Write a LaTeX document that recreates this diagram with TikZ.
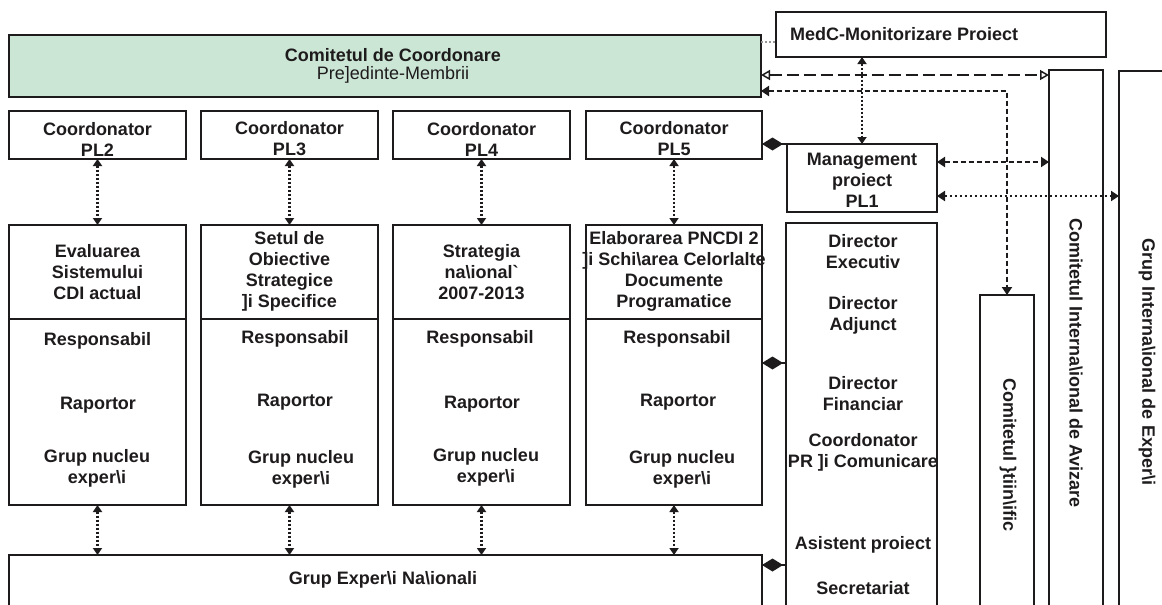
\documentclass[tikz,border=0pt]{standalone}
\usepackage{fontspec}
\setmainfont{Liberation Sans}
\usetikzlibrary{arrows.meta}
\definecolor{ink}{RGB}{30,27,28}
\definecolor{cgreen}{RGB}{204,230,214}
\definecolor{greyline}{RGB}{150,150,150}
\begin{document}
\begin{tikzpicture}[x=1pt,y=-1pt,
  every node/.style={text=ink, font=\fontsize{18}{21}\selectfont\bfseries},
  box/.style={draw=ink, line width=2.5pt, inner sep=0pt, outer sep=0pt},
  lbl/.style={align=center, inner sep=0pt},
  vlbl/.style={align=center, inner sep=0pt, rotate=-90},
  dotarrow/.style={draw=ink, line width=2.2pt, dash pattern=on 2pt off 2pt,
    {Triangle[length=7pt,width=9pt]}-{Triangle[length=7pt,width=9pt]}},
  shortdash/.style={draw=ink, line width=2.4pt, dash pattern=on 5pt off 3pt,
    {Triangle[length=8pt,width=10pt]}-{Triangle[length=8pt,width=10pt]}},
  longdash/.style={draw=ink, line width=2.6pt, dash pattern=on 12pt off 5pt,
    {Triangle[open,length=9pt,width=10pt,line width=1.5pt]}-{Triangle[open,length=9pt,width=10pt,line width=1.5pt]}},
  sparsedot/.style={draw=ink, line width=2.4pt, dash pattern=on 2pt off 3pt,
    {Triangle[length=8pt,width=10pt]}-{Triangle[length=8pt,width=10pt]}},
  diam/.style={draw=ink, line width=2pt, {Diamond[length=21pt,width=13pt]}-}
]
\useasboundingbox (0,0) rectangle (1162,605);

% ---------- top boxes
\node[box, fill=cgreen, minimum width=752, minimum height=62] (cc) at (385,66) {};
\node[lbl, font=\fontsize{18}{18}\selectfont\bfseries] (cct) at (393,66)
  {Comitetul de Coordonare\\\mdseries Pre]edinte-Membrii};

\node[box, minimum width=330, minimum height=45] (medc) at (941,34.5) {};
\node[lbl, anchor=west] (medct) at (790,34) {MedC-Monitorizare Proiect};

% ---------- coordinator boxes
\node[box, minimum width=177, minimum height=48] (c2) at (97.5,135) {};
\node[box, minimum width=177, minimum height=48] (c3) at (289.5,135) {};
\node[box, minimum width=177, minimum height=48] (c4) at (481.5,135) {};
\node[box, minimum width=176, minimum height=48] (c5) at (674,135) {};
\node[lbl] (c2t) at (97.5,139) {Coordonator\\PL2};
\node[lbl] (c3t) at (289.5,139) {Coordonator\\PL3};
\node[lbl] (c4t) at (481.5,139) {Coordonator\\PL4};
\node[lbl] (c5t) at (674,139) {Coordonator\\PL5};

\node[box, minimum width=150, minimum height=68] (mg) at (862,178) {};
\node[lbl] (mgt) at (862,180) {Management\\proiect\\PL1};

% ---------- task boxes
\node[box, minimum width=177, minimum height=280] (t2) at (97.5,365) {};
\node[box, minimum width=177, minimum height=280] (t3) at (289.5,365) {};
\node[box, minimum width=177, minimum height=280] (t4) at (481.5,365) {};
\node[box, minimum width=176, minimum height=280] (t5) at (674,365) {};
\foreach \t in {t2,t3,t4,t5}{
  \draw[draw=ink, line width=2.5pt] (\t.west |- 0,319) -- (\t.east |- 0,319);
}
\node[lbl] (t2h) at (97.5,272) {Evaluarea\\Sistemului\\CDI actual};
\node[lbl] (t3h) at (289.5,271) {Setul de\\Obiective\\Strategice\\]i Specifice};
\node[lbl] (t4h) at (481.5,272) {Strategia\\na\textbackslash ional\textasciigrave\\2007-2013};
\node[lbl] (t5h) at (674,271) {Elaborarea PNCDI 2\\]i Schi\textbackslash area Celorlalte\\Documente\\Programatice};

\node[lbl] (t2r) at (97.5,341) {Responsabil};
\node[lbl] (t2p) at (98,405) {Raportor};
\node[lbl] (t2g) at (97,468) {Grup nucleu\\exper\textbackslash i};
\node[lbl] (t3r) at (295,339) {Responsabil};
\node[lbl] (t3p) at (295,402) {Raportor};
\node[lbl] (t3g) at (301,469) {Grup nucleu\\exper\textbackslash i};
\node[lbl] (t4r) at (480,339) {Responsabil};
\node[lbl] (t4p) at (482,404) {Raportor};
\node[lbl] (t4g) at (486,467) {Grup nucleu\\exper\textbackslash i};
\node[lbl] (t5r) at (677,339) {Responsabil};
\node[lbl] (t5p) at (678,402) {Raportor};
\node[lbl] (t5g) at (682,469) {Grup nucleu\\exper\textbackslash i};

% ---------- Grup Experti Nationali
\node[box, minimum width=753, minimum height=70] (gen) at (385.5,590) {};
\node[lbl] (gent) at (383,580) {Grup Exper\textbackslash i Na\textbackslash ionali};

% ---------- Director box
\node[box, minimum width=151, minimum height=400] (dir) at (861.5,423) {};
\node[lbl] (d1) at (863,252) {Director\\Executiv};
\node[lbl] (d2) at (863,315) {Director\\Adjunct};
\node[lbl] (d3) at (863,394) {Director\\Financiar};
\node[lbl] (d4) at (863,452) {Coordonator\\PR ]i Comunicare};
\node[lbl] (d5) at (863,545) {Asistent proiect};
\node[lbl] (d6) at (863,588) {Secretariat};

% ---------- vertical committees
\node[box, minimum width=54, minimum height=330] (cs) at (1007,460) {};
\node[vlbl] (cst) at (1008,455) {Comitetul \}tiin\textbackslash ific};
\node[box, minimum width=54, minimum height=550] (cia) at (1076,345) {};
\node[vlbl] (ciat) at (1076,363) {Comitetul Interna\textbackslash ional de Avizare};
\node[box, minimum width=56, minimum height=550] (gie) at (1147,346) {};
\node[vlbl] (giet) at (1147,362) {Grup Interna\textbackslash ional de Exper\textbackslash i};

% ---------- connectors
\draw[greyline, line width=1.5pt, dash pattern=on 2pt off 2pt] (cc.east |- 0,42) -- (medc.west |- 0,42);
\draw[longdash] (cc.east |- 0,75) -- (cia.west |- 0,75);
\draw[shortdash] (cc.east |- 0,91) -| (cs.north);
\draw[dotarrow] (mg.north |- medc.south) -- (mg.north);
\draw[shortdash] (mg.east |- 0,162) -- (cia.west |- 0,162);
\draw[sparsedot] (mg.east |- 0,196) -- (gie.west |- 0,196);

\foreach \i in {2,3,4,5}{
  \draw[dotarrow] (c\i.south) -- (t\i.north);
  \draw[dotarrow] (t\i.south) -- (t\i.south |- gen.north);
}

\draw[diam] (c5.east |- 0,144) -- (mg.west |- 0,144);
\draw[diam] (t5.east |- 0,363) -- (dir.west |- 0,363);
\draw[diam] (gen.east |- 0,565) -- (dir.west |- 0,565);
\end{tikzpicture}
\end{document}
